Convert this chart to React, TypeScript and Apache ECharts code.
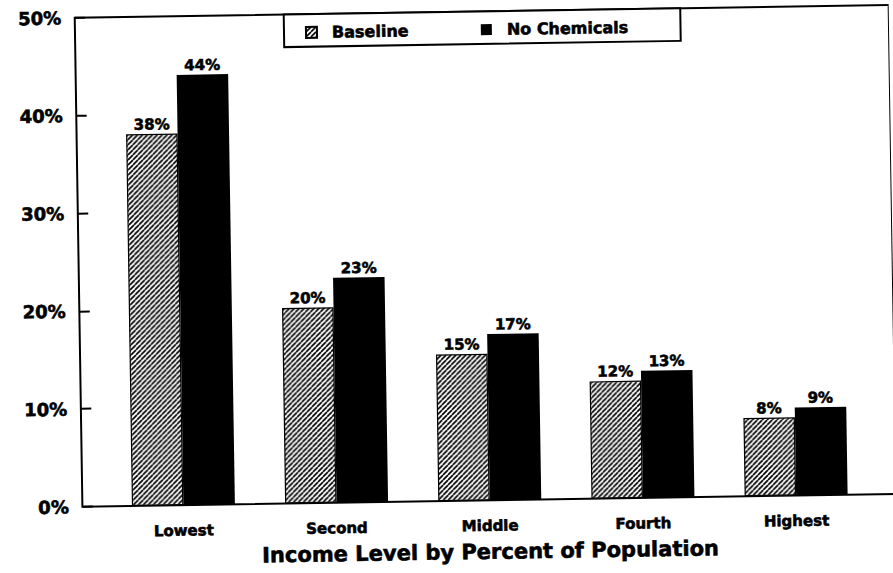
import React, { useEffect, useRef } from "react";
import * as echarts from "echarts";

const categories = ["Lowest", "Second", "Middle", "Fourth", "Highest"];
const seriesNames = ["Baseline", "No Chemicals"];
const baseline = [38, 20, 15, 12, 8];
const noChemicals = [44, 23, 17, 13, 9];
const yMin = 0;
const yMax = 50;
const yStep = 10;
const axisTitle = "Income Level by Percent of Population";

const FONT = "DejaVu Sans";

function makeHatch(): HTMLCanvasElement {
  const c = document.createElement("canvas");
  const w = 5;
  const h = 5;
  c.width = w;
  c.height = h;
  const ctx = c.getContext("2d")!;
  ctx.fillStyle = "#fff";
  ctx.fillRect(0, 0, w, h);
  ctx.strokeStyle = "#000";
  ctx.lineWidth = 1.7;
  for (const off of [-w, 0, w]) {
    ctx.beginPath();
    ctx.moveTo(off, h);
    ctx.lineTo(off + w, 0);
    ctx.stroke();
  }
  return c;
}

export default function App() {
  const ref = useRef<HTMLDivElement>(null);

  useEffect(() => {
    if (!ref.current) return;
    const chart = echarts.init(ref.current, null, { renderer: "svg" });
    const hatch = {
      image: makeHatch(),
      repeat: "repeat",
      imageWidth: 5,
      imageHeight: 5,
    } as any;

    const textBase = {
      fontFamily: FONT,
      fontWeight: "bold" as const,
      color: "#000",
      textBorderColor: "#000",
      textBorderWidth: 0.6,
    };

    chart.setOption({
      animation: false,
      backgroundColor: "#fff",
      textStyle: textBase,
      grid: [
        { left: 103.4, right: 23.6, top: 12, bottom: 72 },
        {
          left: 79,
          right: -15,
          top: 12,
          bottom: 72,
          show: true,
          borderColor: "#000",
          borderWidth: 2,
          backgroundColor: "transparent",
        },
      ],
      legend: {
        data: seriesNames,
        left: 288,
        top: 12,
        orient: "horizontal",
        icon: "rect",
        itemWidth: 11,
        itemHeight: 11,
        itemGap: 72,
        padding: [10, 52, 6, 21],
        borderColor: "#000",
        borderWidth: 2,
        backgroundColor: "#fff",
        selectedMode: false,
        textStyle: { ...textBase, fontSize: 16, padding: [0, 0, 0, 10] },
      },
      xAxis: [
        {
          type: "category",
          gridIndex: 0,
          data: categories,
          axisLine: { show: false },
          axisTick: { show: false },
          axisLabel: { ...textBase, fontSize: 15, margin: 18 },
          name: axisTitle,
          nameLocation: "middle",
          nameGap: 41,
          nameTextStyle: { ...textBase, fontSize: 21 },
        },
        { type: "value", gridIndex: 1, show: false, min: 0, max: 1 },
      ],
      yAxis: [
        {
          type: "value",
          gridIndex: 0,
          min: yMin,
          max: yMax,
          interval: yStep,
          offset: 24,
          axisLine: { show: false },
          axisTick: {
            show: true,
            inside: true,
            length: 10,
            lineStyle: { color: "#000", width: 2 },
          },
          splitLine: { show: false },
          axisLabel: { ...textBase, fontSize: 18, margin: 14, formatter: "{value}%" },
        },
        { type: "value", gridIndex: 1, show: false, min: 0, max: 1 },
      ],
      series: [
        {
          name: seriesNames[0],
          type: "bar",
          xAxisIndex: 0,
          yAxisIndex: 0,
          data: baseline,
          barWidth: 51.5,
          barGap: "0%",
          itemStyle: { color: hatch, borderColor: "#000", borderWidth: 1.2 },
          label: {
            show: true,
            position: "top",
            distance: 2,
            formatter: "{c}%",
            ...textBase,
            fontSize: 15,
          },
          emphasis: { disabled: true },
        },
        {
          name: seriesNames[1],
          type: "bar",
          xAxisIndex: 0,
          yAxisIndex: 0,
          data: noChemicals,
          barWidth: 51.5,
          barGap: "0%",
          itemStyle: { color: "#000" },
          label: {
            show: true,
            position: "top",
            distance: 2,
            formatter: "{c}%",
            ...textBase,
            fontSize: 15,
          },
          emphasis: { disabled: true },
        },
      ],
    });

    return () => {
      chart.dispose();
    };
  }, []);

  return (
    <div
      ref={ref}
      style={{
        position: "absolute",
        left: 0,
        top: 0,
        width: 893,
        height: 573,
        background: "#fff",
        transform: "rotate(-0.9deg)",
        transformOrigin: "50% 50%",
      }}
    />
  );
}
